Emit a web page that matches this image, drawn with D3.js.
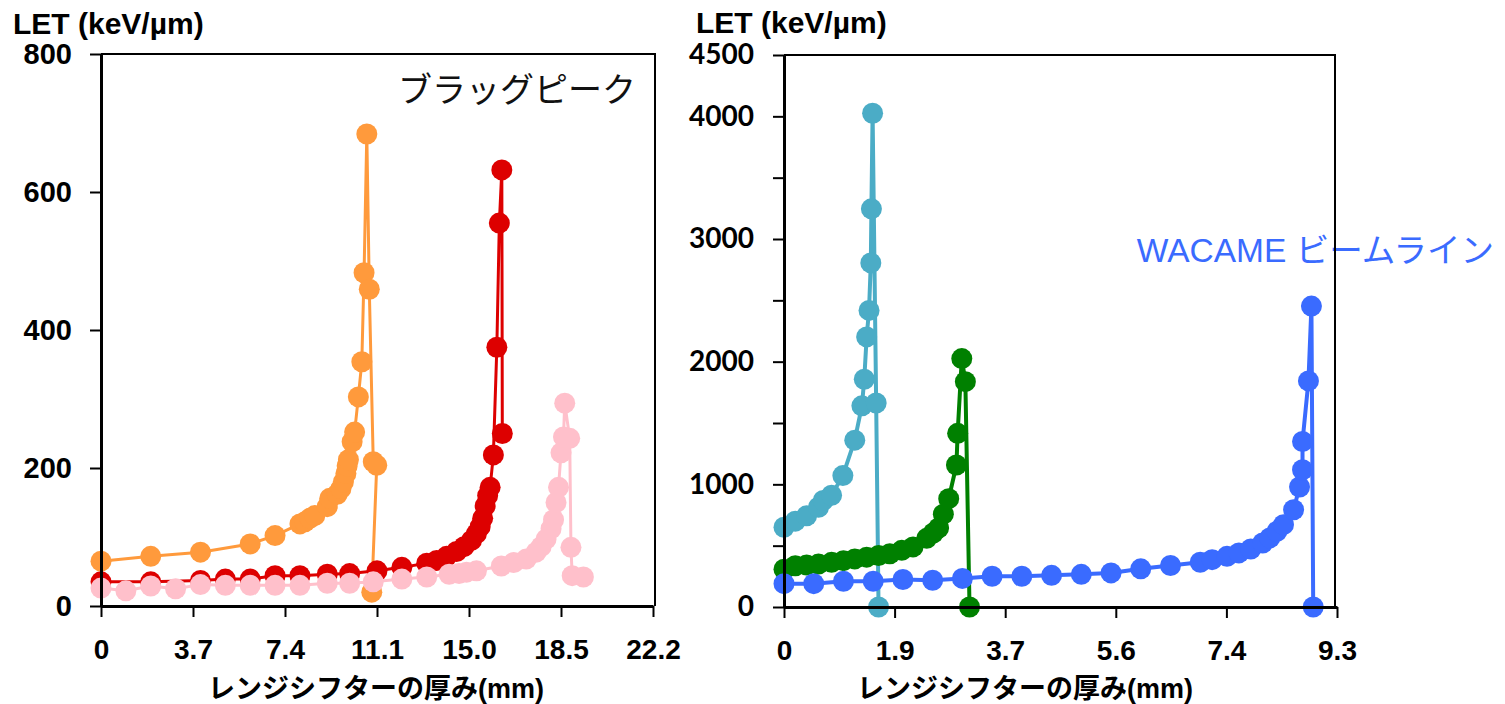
<!DOCTYPE html>
<html>
<head>
<meta charset="utf-8">
<script src="https://cdn.jsdelivr.net/npm/d3@7"></script>
<style>
  body { margin: 0; background: #fff; }
  svg { display: block; }
  .lbl { font-family: "Liberation Sans", Arial, "Noto Sans CJK JP", sans-serif; }
</style>
</head>
<body>
<div id="plot"></div>
<script>
// ---- data ----
var leftXTicks = [0, 3.7, 7.4, 11.1, 14.8, 18.5, 22.2];
var leftXLabels = ["0", "3.7", "7.4", "11.1", "15.0", "18.5", "22.2"];
var leftYTicks = [0, 200, 400, 600, 800];

var rightXTicks = [0, 1.86, 3.72, 5.58, 7.44, 9.3];
var rightXLabels = ["0", "1.9", "3.7", "5.6", "7.4", "9.3"];
var rightYTicks = [0, 500, 1000, 1500, 2000, 2500, 3000, 3500, 4000, 4500];
var rightYLabels = ["0", "", "1000", "", "2000", "", "3000", "", "4000", "4500"];

// left panel (ブラッグピーク)
var orangeData = [[0,65],[2.0,72],[4.0,78],[6.0,90],[7.0,102],[8.0,119],[8.2,122],[8.4,127],[8.6,131],
    [9.1,144],[9.2,156],[9.5,162],[9.65,170],[9.75,180],[9.85,192],[9.9,203],[9.95,212],[10.1,238],
    [10.2,252],[10.35,303],[10.49,354],[10.58,483],[10.69,684],[10.79,459],[10.95,209],[11.09,204],[10.89,20]];
var redData = [[0,35],[2.0,35],[4.0,37],[5.0,39],[6.0,39],[7.0,44],[8.0,44],[9.1,46],[10.0,47],
    [11.1,51],[12.1,56],[13.1,62],[13.5,66],[13.9,72],[14.3,79],[14.6,86],[14.9,95],[15.1,105],
    [15.25,115],[15.35,127],[15.45,145],[15.55,160],[15.65,172],[15.78,219],[15.92,375],[16.02,555],
    [16.12,632],[16.14,250]];
var pinkData = [[0,26],[1.0,22],[2.0,29],[3.0,25],[4.0,31],[5.0,30],[6.0,30],[7.0,30],[8.0,30],
    [9.1,33],[10.0,33],[10.95,35],[12.1,39],[13.1,42],[14.0,46],[14.4,47],[14.7,49],[15.1,51],
    [16.1,58],[16.6,63],[17.1,68],[17.5,78],[17.7,86],[17.9,97],[18.1,112],[18.2,125],[18.3,150],
    [18.4,172],[18.5,222],[18.6,245],[18.65,294],[18.85,243],[18.9,85],[18.95,44],[19.4,42]];

// right panel (WACAME ビームライン)
var cyanData = [[0,650],[0.19,700],[0.38,743],[0.58,813],[0.66,869],[0.8,911],[0.99,1071],[1.19,1360],
    [1.31,1640],[1.35,1857],[1.39,2202],[1.43,2418],[1.46,2805],[1.47,3246],[1.49,4025],[1.55,1663],[1.59,0]];
var greenData = [[0,308],[0.19,336],[0.38,342],[0.58,350],[0.8,364],[1.0,378],[1.19,392],[1.39,406],
    [1.59,420],[1.78,434],[1.98,462],[2.17,490],[2.4,560],[2.51,603],[2.6,644],[2.68,757],[2.77,883],
    [2.9,1158],[2.92,1416],[2.99,2025],[3.05,1837],[3.12,0]];
var blueData = [[0,190],[0.5,190],[1.0,210],[1.5,210],[2.0,224],[2.5,218],[3.0,233],[3.5,251],[4.0,251],
    [4.5,258],[5.0,266],[5.5,278],[6.0,311],[6.5,338],[7.0,365],[7.2,386],[7.45,413],[7.65,441],
    [7.85,473],[8.05,522],[8.17,563],[8.29,617],[8.4,671],[8.57,793],[8.67,978],[8.72,1119],
    [8.72,1349],[8.82,1843],[8.87,2453],[8.9,0]];

var svg = d3.select("#plot").append("svg")
    .attr("width", 1505)
    .attr("height", 704);

function drawPanel(p) {
    var xScale = d3.scaleLinear().domain(p.xDomain).range([p.left, p.right]);
    var yScale = d3.scaleLinear().domain(p.yDomain).range([p.bottom, p.top]);

    // series
    p.series.forEach(function (s) {
        var line = d3.line()
            .x(function (d) { return xScale(d[0]); })
            .y(function (d) { return yScale(d[1]); });
        var g = svg.append("g");
        g.append("path")
            .datum(s.data)
            .attr("d", line)
            .attr("fill", "none")
            .attr("stroke", s.color)
            .attr("stroke-width", p.lineWidth)
            .attr("stroke-linejoin", "round");
        g.selectAll("circle")
            .data(s.data).enter().append("circle")
            .attr("cx", function (d) { return xScale(d[0]); })
            .attr("cy", function (d) { return yScale(d[1]); })
            .attr("r", 10.5)
            .style("fill", s.color);
    });

    // annotation text
    svg.append("text")
        .attr("class", "lbl")
        .attr("x", p.note.x)
        .attr("y", p.note.y)
        .attr("text-anchor", "end")
        .attr("font-size", p.note.size)
        .attr("fill", p.note.color)
        .text(p.note.text);

    // frame (top + right)
    svg.append("path")
        .attr("d", "M" + p.left + "," + p.top + "H" + p.frameRight + "V" + p.bottom)
        .attr("fill", "none")
        .attr("stroke", "#000")
        .attr("stroke-width", 2);

    var xAxis = d3.axisBottom(xScale)
        .tickValues(p.xTicks)
        .tickFormat(function (d, i) { return p.xLabels[i]; })
        .tickSize(11)
        .tickSizeOuter(0)
        .tickPadding(22);
    var yAxis = d3.axisLeft(yScale)
        .tickValues(p.yTicks)
        .tickFormat(function (d, i) { return p.yLabels[i]; })
        .tickSize(11)
        .tickSizeOuter(0)
        .tickPadding(p.yPad);

    var gx = svg.append("g")
        .attr("transform", "translate(0," + p.bottom + ")")
        .call(xAxis);
    var gy = svg.append("g")
        .attr("transform", "translate(" + p.left + ",0)")
        .call(yAxis);

    [gx, gy].forEach(function (g) {
        g.selectAll("path.domain").attr("stroke", "#000").attr("stroke-width", 3);
        g.selectAll("line").attr("stroke", "#000").attr("stroke-width", 2);
    });
    gx.selectAll("text")
        .attr("class", "lbl")
        .attr("font-size", 28)
        .attr("font-weight", "bold")
        .attr("fill", "#000");
    gy.selectAll("text")
        .attr("font-family", p.yFont)
        .attr("font-size", p.yFontSize)
        .attr("font-weight", "bold")
        .attr("fill", "#000");

    // axis titles
    svg.append("text")
        .attr("class", "lbl")
        .attr("x", p.yTitleX)
        .attr("y", p.yTitleY)
        .attr("font-size", 30)
        .attr("font-weight", "bold")
        .text("LET (keV/µm)");
    svg.append("text")
        .attr("class", "lbl")
        .attr("x", p.xTitleX)
        .attr("y", 698)
        .attr("text-anchor", "middle")
        .attr("font-size", 27)
        .attr("font-weight", "bold")
        .text("レンジシフターの厚み(mm)");
}

drawPanel({
    xDomain: [0, 22.2], yDomain: [0, 800],
    left: 101, right: 653, frameRight: 655, top: 54, bottom: 606,
    xTicks: leftXTicks, xLabels: leftXLabels,
    yTicks: leftYTicks, yLabels: leftYTicks.map(String),
    yFont: "'Liberation Sans', Arial, sans-serif", yFontSize: 29, yPad: 18,
    yTitleX: 13, yTitleY: 34, xTitleX: 376,
    lineWidth: 3,
    series: [
        { data: orangeData, color: "#ff9a3c" },
        { data: redData, color: "#dd0000" },
        { data: pinkData, color: "#ffc0cb" }
    ],
    note: { text: "ブラッグピーク", x: 636, y: 102, size: 34, color: "#111" }
});

drawPanel({
    xDomain: [0, 9.3], yDomain: [0, 4500],
    left: 784, right: 1337, frameRight: 1335, top: 55, bottom: 607,
    xTicks: rightXTicks, xLabels: rightXLabels,
    yTicks: rightYTicks, yLabels: rightYLabels,
    yFont: "Lato, 'Open Sans', sans-serif", yFontSize: 28, yPad: 19,
    yTitleX: 696, yTitleY: 33, xTitleX: 1025,
    lineWidth: 4,
    series: [
        { data: cyanData, color: "#4bacc6" },
        { data: greenData, color: "#008000" },
        { data: blueData, color: "#3a6bff" }
    ],
    note: { text: "WACAME ビームライン", x: 1494, y: 262, size: 33.5, color: "#3a6bff" }
});
</script>
</body>
</html>
